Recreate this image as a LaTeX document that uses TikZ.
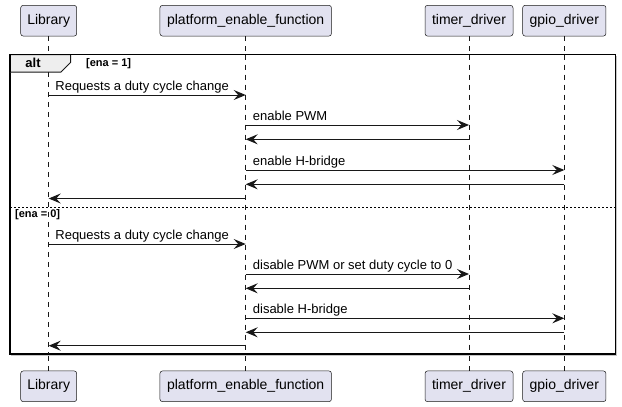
\documentclass[tikz,border=0pt]{standalone}
\usepackage{fontspec}
\setmainfont{Liberation Sans}
\usetikzlibrary{arrows.meta}
\definecolor{cline}{HTML}{181818}
\definecolor{partfill}{HTML}{E2E2F0}
\definecolor{tabfill}{HTML}{EEEEEE}
\tikzset{
  part/.style={draw=cline, line width=0.5pt, fill=partfill, rounded corners=2.5pt,
    minimum height=30.7pt, inner sep=0pt, font=\fontsize{14}{16}\selectfont},
  life/.style={draw=cline, line width=0.5pt, dash pattern=on 5pt off 5pt},
  msg/.style={draw=cline, line width=1pt, -{Stealth[length=12pt,width=10pt,inset=4.5pt]}},
  lbl/.style={anchor=base west, inner sep=0pt, font=\fontsize{13}{15}\selectfont},
  guard/.style={anchor=west, inner sep=0pt, font=\bfseries\fontsize{11}{13}\selectfont},
}
\begin{document}
\begin{tikzpicture}[x=1pt,y=-1pt]
\useasboundingbox (0,0) rectangle (622,407);
% participants
\node[part, minimum width=56pt]    (libT) at (48.7,20.7)  {Library};
\node[part, minimum width=171.5pt] (pefT) at (245.7,20.7) {platform\_enable\_function};
\node[part, minimum width=88pt]    (timT) at (469,20.7)   {timer\_driver};
\node[part, minimum width=83.3pt]  (gpiT) at (564.3,20.7) {gpio\_driver};
\node[part, minimum width=56pt]    (libB) at (48.7,386.3)  {Library};
\node[part, minimum width=171.5pt] (pefB) at (245.7,386.3) {platform\_enable\_function};
\node[part, minimum width=88pt]    (timB) at (469,386.3)   {timer\_driver};
\node[part, minimum width=83.3pt]  (gpiB) at (564.3,386.3) {gpio\_driver};
% lifelines
\draw[life] (libT.south) -- (libB.north);
\draw[life] (pefT.south) -- (pefB.north);
\draw[life] (timT.south) -- (timB.north);
\draw[life] (gpiT.south) -- (gpiB.north);
% alt frame
\draw[gray!45, line width=1pt] (11.5,56) rectangle (616.5,355.3);
\draw[black, line width=1.5pt, fill=white] (10,54.5) rectangle (615.5,354);
\draw[cline, line width=1pt, fill=tabfill] (10,54.5) -- (70.5,54.5) -- (70.5,62.5) -- (61,72) -- (10,72) -- cycle;
\draw[black, line width=1.5pt] (10,54.5) -- (615.5,54.5);
\draw[black, line width=1.5pt] (10,54.5) -- (10,72);
\node[font=\bfseries\fontsize{13}{15}\selectfont, inner sep=0pt] (altlbl) at (33,63) {alt};
\node[guard] (g1) at (86,63.5) {[ena = 1]};
\coordinate (sepL) at (10,207.5);
\coordinate (sepR) at (615.5,207.5);
\draw[black, line width=1pt, dash pattern=on 2pt off 2pt] (sepL) -- (sepR);
\node[guard] (g0) at (15,215) {[ena = 0]};
% redraw lifelines inside frame
\draw[life] (48.7,72) -- (48.7,354);
\draw[life] (245.7,54.5) -- (245.7,354);
\draw[life] (469,54.5) -- (469,354);
\draw[life] (564.3,54.5) -- (564.3,354);
% message anchors
\foreach \n/\y in {1/95,2/125,3/139.3,4/170,5/184.3,6/198.5,7/244,8/274,9/288.3,10/318.3,11/332.3,12/345.7}{
  \coordinate (L\n) at (48.7,\y);
  \coordinate (P\n) at (245.7,\y);
  \coordinate (T\n) at (469,\y);
  \coordinate (G\n) at (564.3,\y);
}
% messages
\draw[msg] (L1) -- (P1);
\node[lbl] (m1) at ([xshift=6.5pt,yshift=5pt]L1) {Requests a duty cycle change};
\draw[msg] (P2) -- (T2);
\node[lbl] (m2) at ([xshift=7pt,yshift=5pt]P2) {enable PWM};
\draw[msg] (T3) -- (P3);
\draw[msg] (P4) -- (G4);
\node[lbl] (m4) at ([xshift=7pt,yshift=5pt]P4) {enable H-bridge};
\draw[msg] (G5) -- (P5);
\draw[msg] (P6) -- (L6);
\draw[msg] (L7) -- (P7);
\node[lbl] (m7) at ([xshift=6.5pt,yshift=5pt]L7) {Requests a duty cycle change};
\draw[msg] (P8) -- (T8);
\node[lbl] (m8) at ([xshift=7pt,yshift=5pt]P8) {disable PWM or set duty cycle to 0};
\draw[msg] (T9) -- (P9);
\draw[msg] (P10) -- (G10);
\node[lbl] (m10) at ([xshift=7pt,yshift=5pt]P10) {disable H-bridge};
\draw[msg] (G11) -- (P11);
\draw[msg] (P12) -- (L12);
\end{tikzpicture}
\end{document}
